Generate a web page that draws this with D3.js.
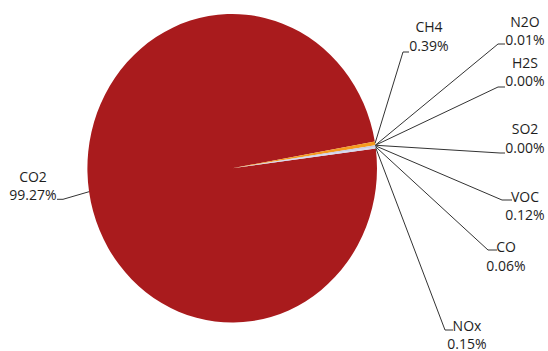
<!DOCTYPE html>
<html><head><meta charset="utf-8">
<script src="https://cdn.jsdelivr.net/npm/d3@7"></script>
<style>html,body{margin:0;padding:0;background:#fff;}svg{display:block;}</style>
</head><body>
<svg id="chart" width="548" height="351"></svg>
<script>
// ---- data ----
const categories = ["CO2", "CH4", "N2O", "H2S", "SO2", "VOC", "CO", "NOx"];
const values     = [99.27, 0.39, 0.01, 0.002, 0.001, 0.12, 0.06, 0.15];
const colors     = ["#A91B1D", "#F59A1E", "#FFD23F", "#9E9E9E", "#7F7F7F", "#C5C8E4", "#B0B8DC", "#D4D7EE"];

// ---- label layout (not data) ----
const labelCenterX = [33, 429, 525, 525, 525, 525, 506, 467];
const labelBaseY   = [181.5, 32, 26.5, 67.5, 134, 201.5, 252, 330.5];
const elbowX       = [63, 403, 498, 498, 500, 502, 488, 445];
const stubX        = [57, 409, 505, 505, 505, 512, 497, 453];
const stubY        = [199.3, 52, 44, 87, 153, 200, 250, 330];

const svg = d3.select("#chart");
const cx = 232.2, cy = 168.3, rx = 144.8, ry = 154.3;
const startDeg = 82.6;

const total = d3.sum(values);
const pie = d3.pie().sort(null).value(d => d)
  .startAngle(startDeg * Math.PI / 180)
  .endAngle(startDeg * Math.PI / 180 + 2 * Math.PI);
const arcs = pie(values);
const arc = d3.arc().innerRadius(0).outerRadius(rx);

const g = svg.append("g").attr("transform", `translate(${cx},${cy}) scale(1,${ry / rx})`);
g.selectAll("path").data(arcs).join("path")
  .attr("d", arc)
  .attr("fill", (d, i) => colors[i]);

const fmt = v => (v / total * 100).toFixed(2) + "%";

// leader lines + labels
arcs.forEach((d, i) => {
  const a = (d.startAngle + d.endAngle) / 2;
  const px = cx + rx * Math.sin(a), py = cy - ry * Math.cos(a);
  svg.append("polyline")
    .attr("points", `${px},${py} ${elbowX[i]},${stubY[i]} ${stubX[i]},${stubY[i]}`)
    .attr("fill", "none").attr("stroke", "#333").attr("stroke-width", 1);
  const t = svg.append("text")
    .attr("text-anchor", "middle")
    .attr("font-family", "'Open Sans', 'Liberation Sans', sans-serif")
    .attr("font-size", 14)
    .attr("fill", "#1e1e1e");
  t.append("tspan").attr("x", labelCenterX[i]).attr("y", labelBaseY[i]).text(categories[i]);
  t.append("tspan").attr("x", labelCenterX[i]).attr("y", labelBaseY[i] + 18.5).text(fmt(values[i]));
});
</script>
</body></html>
